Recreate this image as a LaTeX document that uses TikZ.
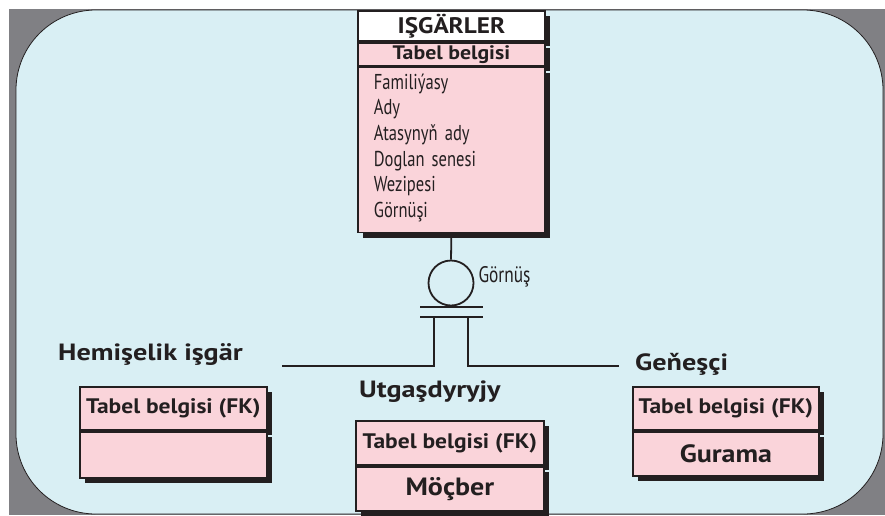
\documentclass[tikz,border=0pt]{standalone}
\usepackage{fontspec}
\setmainfont{PT Sans}
\newfontfamily\condfont{PT Sans}[FakeStretch=0.77]
\newfontfamily\headfont{PT Sans Bold}[FakeStretch=1.12]
\newfontfamily\lblfont{PT Sans Bold}[FakeStretch=1.2]
\usepackage{xcolor}
\usetikzlibrary{positioning,shadows}
\definecolor{framegray}{RGB}{128,128,132}
\definecolor{skyblue}{RGB}{217,239,244}
\definecolor{rowpink}{RGB}{250,212,218}
\definecolor{ink}{RGB}{35,31,32}

\begin{document}
\begin{tikzpicture}[x=1pt,y=-1pt,
    row/.style={rectangle,draw=ink,line width=1.8pt,fill=rowpink,inner sep=0pt,
      text=ink,font=\headfont\fontsize{21}{24}\selectfont,
      drop shadow={fill=ink,opacity=1,shadow xshift=5pt,shadow yshift=-5pt}},
    lbl/.style={anchor=base west,inner sep=0pt,text=ink,font=\lblfont\fontsize{23.5}{27}\selectfont},
    link/.style={-,line width=1.8pt,draw=ink}]
\useasboundingbox (0,0) rectangle (885,515);
% frame and rounded panel
\fill[framegray] (9,9) rectangle (885,515);
\draw[ink,line width=0.8pt,fill=skyblue,rounded corners=80pt] (16,10) rectangle (883,514);
% supertype entity
\node[row,fill=white,anchor=north west,minimum width=187pt,minimum height=30pt,
  font=\headfont\fontsize{22.5}{24}\selectfont] (empT) at (357,10) {IŞGÄRLER};
\node[row,below=0pt of empT,minimum width=187pt,minimum height=23pt,
  font=\headfont\fontsize{19.5}{22}\selectfont] (empK) {Tabel belgisi};
\node[row,below=0pt of empK,minimum width=187pt,minimum height=165pt,text width=155pt,
  inner xsep=16pt,align=left,font=\condfont\fontsize{21.5}{25.6}\selectfont] (empA)
  {Familiýasy\\Ady\\Atasynyň ady\\Doglan senesi\\Wezipesi\\Görnüşi\rule[-9pt]{0pt}{0pt}};
% subtype symbol
\node[circle,draw=ink,line width=1.8pt,minimum size=45pt,inner sep=0pt] (sub) at (451,283) {};
\node[anchor=west,text=ink,font=\condfont\fontsize{22.5}{24}\selectfont] (disc) at (475,277) {Görnüş};
\draw[link] (empA.south) -- (sub.north);
\coordinate (barAw) at (420,307); \coordinate (barAe) at (483,307);
\coordinate (barBw) at (420,317); \coordinate (barBe) at (483,317);
\coordinate (legL) at (434,317); \coordinate (legR) at (468,317);
\coordinate (endL) at (282,366); \coordinate (endR) at (619,366);
\draw[link] (barAw) -- (barAe);
\draw[link] (barBw) -- (barBe);
\draw[link] (legL) |- (endL);
\draw[link] (legR) |- (endR);
% subtype entities
\node[lbl] (hemN) at (58,360) {Hemişelik işgär};
\node[row,anchor=north west,minimum width=187pt,minimum height=43pt] (hemK) at (79,386) {Tabel belgisi (FK)};
\node[row,below=0pt of hemK,minimum width=187pt,minimum height=46pt] (hemE) {};
\node[lbl] (utgN) at (359,397) {Utgaşdyryjy};
\node[row,anchor=north west,minimum width=188pt,minimum height=44pt] (utgK) at (355,420) {Tabel belgisi (FK)};
\node[row,below=0pt of utgK,minimum width=188pt,minimum height=44pt,
  font=\headfont\fontsize{25}{28}\selectfont] (utgE) {Möçber};
\node[lbl] (genN) at (635,370) {Geňeşçi};
\node[row,anchor=north west,minimum width=186pt,minimum height=43pt] (genK) at (632,386) {Tabel belgisi (FK)};
\node[row,below=0pt of genK,minimum width=186pt,minimum height=44pt,
  font=\headfont\fontsize{25}{28}\selectfont] (genE) {Gurama};
\end{tikzpicture}
\end{document}
